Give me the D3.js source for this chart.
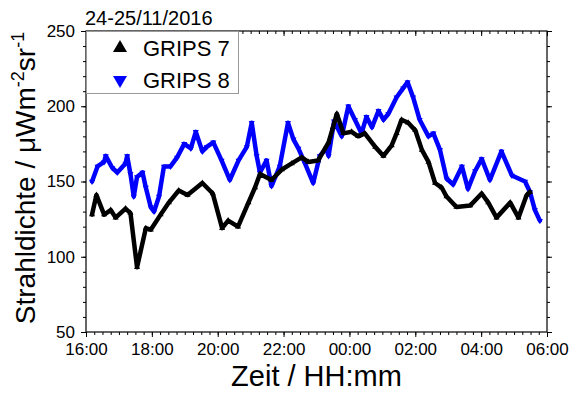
<!DOCTYPE html>
<html>
<head>
<meta charset="utf-8">
<script src="https://cdn.jsdelivr.net/npm/d3@7"></script>
<style>
  body { margin: 0; background: #fff; }
  text { font-family: "Liberation Sans", Arial, sans-serif; }
</style>
</head>
<body>
<script>
// GRIPS 7 (black)
const times7 = ["16:11","16:19","16:33","16:45","16:54","17:12","17:21","17:33","17:49","17:58",
  "18:16","18:31","18:49","19:05","19:32","19:51","20:08","20:19","20:37","20:56",
  "21:08","21:17","21:38","21:57","22:15","22:33","22:45","23:03","23:22","23:30",
  "23:37","23:49","00:04","00:16","00:28","00:47","01:02","01:17","01:26","01:35",
  "01:47","02:00","02:12","02:24","02:36","02:48","02:57","03:15","03:40","04:01",
  "04:13","04:28","04:53","05:08","05:23","05:29"];
const vals7 = [128,141,128,131,126,132,129,93,119,118,
  128,136,144,141,149,142,119,124,120,136,
  146,155,151,158,162,166,163,164,176,186,
  195,182,183,180,182,173,167,174,182,191,
  189,184,171,163,149,146,140,133,134,142,
  136,126,136,126,141,143];

// GRIPS 8 (blue)
const times8 = ["16:11","16:21","16:33","16:36","16:48","16:57","17:12","17:15","17:21","17:27",
  "17:33","17:43","17:49","17:58","18:04","18:13","18:22","18:34","18:46","18:59",
  "19:11","19:20","19:32","19:40","19:52","20:07","20:22","20:38","20:53","21:02",
  "21:11","21:17","21:29","21:38","21:53","22:08","22:18","22:27","22:39","22:54",
  "23:06","23:18","23:22","23:32","23:46","23:58","00:10","00:22","00:31","00:41",
  "00:53","01:02","01:11","01:26","01:38","01:46","01:56","02:08","02:24","02:33",
  "02:45","02:57","03:09","03:25","03:36","03:49","04:01","04:16","04:37","04:56",
  "05:20","05:29","05:38","05:47"];
const vals8 = [150,160,163,167,159,156,162,167,155,140,
  153,156,146,133,130,140,160,160,166,175,
  172,183,170,173,176,164,151,164,173,189,
  167,156,164,147,160,189,178,172,162,149,
  167,172,167,190,180,200,191,182,193,186,
  197,191,195,206,212,216,206,191,180,182,
  171,152,148,160,145,157,165,151,170,154,
  150,143,131,124];

const yTicks = [50, 100, 150, 200, 250];
const seriesNames = ["GRIPS 7", "GRIPS 8"];
const seriesColors = ["#000000", "#0000ff"];

// times before noon belong to the next day
const parseT = s => {
  const [h, m] = s.split(":").map(Number);
  return new Date(2016, 10, h < 12 ? 25 : 24, h, m);
};

const W = 576, H = 394;
const margin = { top: 31, right: 29, bottom: 62, left: 86 };
const width = W - margin.left - margin.right,
      height = H - margin.top - margin.bottom;

const svg = d3.select("body").append("svg")
    .attr("width", W)
    .attr("height", H);

const g = svg.append("g")
    .attr("transform", `translate(${margin.left},${margin.top})`);

const x = d3.scaleTime()
    .domain([new Date(2016, 10, 24, 16, 0), new Date(2016, 10, 25, 6, 0)])
    .range([0, width]);

const y = d3.scaleLinear()
    .domain([50, 250])
    .range([height, 0]);

// minor ticks
const minorX = d3.timeMinute.every(15).range(x.domain()[0], d3.timeMinute.offset(x.domain()[1], 1));
const minorY = d3.range(50, 251, 10);

function styleAxis(sel) {
  sel.select(".domain").remove();
  sel.selectAll("line").attr("stroke", "#000").attr("stroke-width", 1);
  sel.selectAll("text").attr("fill", "#000").style("font-size", "17px")
     .style("font-family", '"Liberation Sans", Arial, sans-serif');
}

// bottom
g.append("g").attr("transform", `translate(0,${height})`)
  .call(d3.axisBottom(x).tickValues(minorX).tickSize(3).tickFormat(""))
  .call(styleAxis);
g.append("g").attr("transform", `translate(0,${height})`)
  .call(d3.axisBottom(x).ticks(d3.timeHour.every(2)).tickSize(5).tickPadding(6)
        .tickFormat(d3.timeFormat("%H:%M")))
  .call(styleAxis);

// top (inward)
g.append("g")
  .call(d3.axisTop(x).tickValues(minorX).tickSize(-3).tickFormat(""))
  .call(styleAxis);
g.append("g")
  .call(d3.axisTop(x).ticks(d3.timeHour.every(2)).tickSize(-5).tickFormat(""))
  .call(styleAxis);

// left
g.append("g")
  .call(d3.axisLeft(y).tickValues(minorY).tickSize(3).tickFormat(""))
  .call(styleAxis);
g.append("g")
  .call(d3.axisLeft(y).tickValues(yTicks).tickSize(5).tickPadding(6))
  .call(styleAxis);

// right
g.append("g").attr("transform", `translate(${width},0)`)
  .call(d3.axisRight(y).tickValues(minorY).tickSize(3).tickFormat(""))
  .call(styleAxis);
g.append("g").attr("transform", `translate(${width},0)`)
  .call(d3.axisRight(y).tickValues(yTicks).tickSize(5).tickFormat(""))
  .call(styleAxis);

// frame
g.append("rect")
  .attr("width", width).attr("height", height)
  .attr("fill", "none").attr("stroke", "#000").attr("stroke-width", 1.2);

// data: blue first, black on top
const series = [
  { times: times8, vals: vals8, color: seriesColors[1], rot: 180 },
  { times: times7, vals: vals7, color: seriesColors[0], rot: 0 }
];

const line = d3.line()
  .x(d => x(d.t))
  .y(d => y(d.v));

series.forEach(s => {
  const pts = s.times.map((t, i) => ({ t: parseT(t), v: s.vals[i] }));
  g.append("path")
    .datum(pts)
    .attr("d", line)
    .attr("fill", "none")
    .attr("stroke", s.color)
    .attr("stroke-width", 4.5)
    .attr("stroke-linejoin", "round")
    .attr("stroke-linecap", "round");
  g.selectAll(null)
    .data(pts)
    .join("path")
    .attr("d", d3.symbol(d3.symbolTriangle, 16))
    .attr("transform", d => `translate(${x(d.t)},${y(d.v)}) rotate(${s.rot})`)
    .attr("fill", s.color);
});

// legend
const legend = g.append("g");
legend.append("rect")
  .attr("x", 0.5).attr("y", 0.5)
  .attr("width", 152).attr("height", 62)
  .attr("fill", "#fff").attr("stroke", "#999").attr("stroke-width", 1);
seriesNames.forEach((name, i) => {
  const ly = 17 + i * 32;
  legend.append("path")
    .attr("d", d3.symbol(d3.symbolTriangle, 85))
    .attr("transform", `translate(34,${ly}) rotate(${i === 0 ? 0 : 180})`)
    .attr("fill", seriesColors[i]);
  legend.append("text")
    .attr("x", 57).attr("y", ly + 8)
    .style("font-size", "22px")
    .text(name);
});

// title
svg.append("text")
  .attr("x", 85).attr("y", 25)
  .style("font-size", "20px")
  .text("24-25/11/2016");

// axis labels
svg.append("text")
  .attr("x", margin.left + width / 2).attr("y", 386)
  .attr("text-anchor", "middle")
  .style("font-size", "29px")
  .text("Zeit / HH:mm");

const yl = svg.append("text")
  .attr("transform", `translate(35,${178}) rotate(-90)`)
  .attr("text-anchor", "middle")
  .style("font-size", "28px");
yl.append("tspan").text("Strahldichte / μWm");
yl.append("tspan").attr("dy", -11).style("font-size", "18px").text("-2");
yl.append("tspan").attr("dy", 11).text("sr");
yl.append("tspan").attr("dy", -11).style("font-size", "18px").text("-1");
</script>
</body>
</html>
